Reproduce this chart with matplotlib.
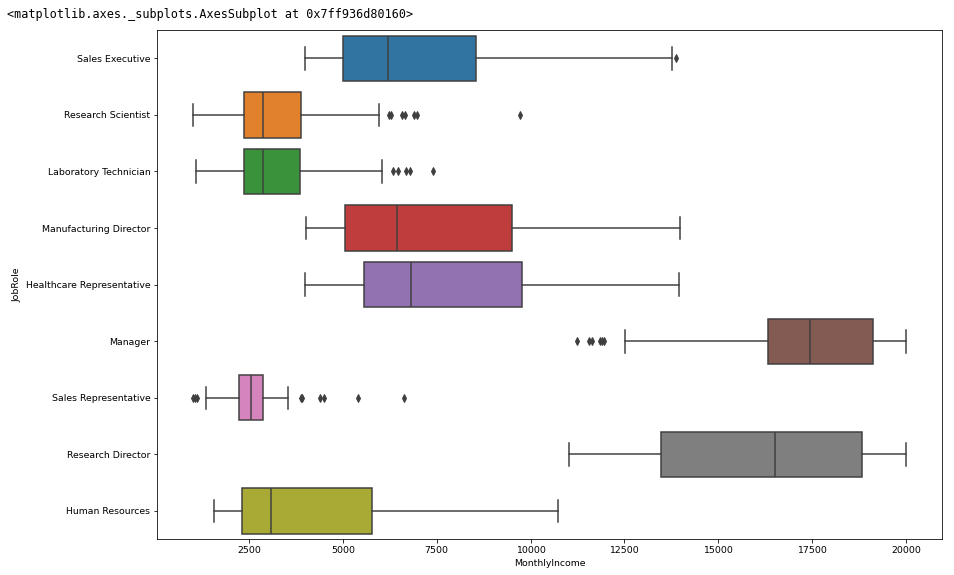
import matplotlib
matplotlib.use("Agg")
from matplotlib import pyplot as plt

# MonthlyIncome by JobRole, box stats
roles = ["Sales Executive", "Research Scientist", "Laboratory Technician",
         "Manufacturing Director", "Healthcare Representative", "Manager",
         "Sales Representative", "Research Director", "Human Resources"]
whislo = [4001, 1009, 1091, 4011, 4000, 12504, 1351, 11031, 1555]
q1 = [5005, 2368, 2368, 5060, 5562, 16320, 2243, 13470, 2310]
med = [6205, 2875, 2883, 6437, 6810, 17450, 2560, 16505, 3085]
q3 = [8540, 3893, 3868, 9515, 9767, 19130, 2864, 18822, 5787]
whishi = [13770, 5956, 6050, 13973, 13966, 19999, 3531, 19999, 10725]
fliers = [
    [13872],
    [6220, 6294, 6577, 6646, 6893, 6962, 9724],
    [6323, 6472, 6674, 6782, 7403],
    [],
    [],
    [11244, 11557, 11631, 11849, 11904, 11957],
    [1009, 1052, 1118, 3875, 3904, 4400, 4492, 5405, 6632],
    [],
    [],
]
colors = ["#3274a1", "#e1812c", "#3a923a", "#c03d3e", "#9372b2",
          "#845b53", "#d684bd", "#7f7f7f", "#a9aa35"]

gray = "#3f3f3f"
plt.rcParams["font.size"] = 9.4

stats = []
for i in range(len(roles)):
    stats.append(dict(label=roles[i], whislo=whislo[i], q1=q1[i], med=med[i],
                      q3=q3[i], whishi=whishi[i], fliers=fliers[i]))

fig = plt.figure(figsize=(954/72, 575/72), dpi=72)
ax = fig.add_axes([0.1649, 0.0621, 0.8225, 0.8857])

bp = ax.bxp(stats, positions=range(len(roles)), widths=0.8,
            orientation="horizontal", patch_artist=True,
            boxprops=dict(edgecolor=gray, linewidth=1.5),
            whiskerprops=dict(color=gray, linewidth=1.5),
            capprops=dict(color=gray, linewidth=1.5),
            medianprops=dict(color=gray, linewidth=1.5),
            flierprops=dict(marker="d", markerfacecolor=gray,
                            markeredgecolor=gray, markersize=5))
for box, c in zip(bp["boxes"], colors):
    box.set_facecolor(c)

ax.set_ylim(len(roles) - 0.5, -0.5)
ax.set_xlim(57, 20961)
ax.set_yticks(range(len(roles)))
ax.set_yticklabels(roles)
ax.set_xlabel("MonthlyIncome")
ax.set_ylabel("JobRole")

fig.text(0.007, 0.975, "<matplotlib.axes._subplots.AxesSubplot at 0x7ff936d80160>",
         family="DejaVu Sans Mono", fontsize=11.8, va="center", ha="left")

fig.savefig("out.png", dpi=72)
